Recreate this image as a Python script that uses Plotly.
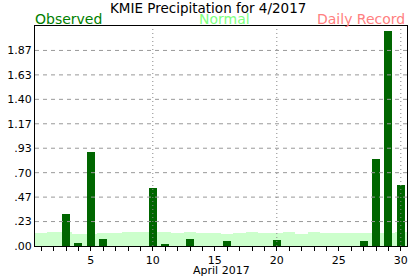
import plotly.graph_objects as go

days = list(range(1, 31))
observed = [0, 0, 0.31, 0.03, 0.90, 0.07, 0, 0, 0, 0.55,
            0.02, 0, 0.07, 0, 0, 0.05, 0, 0, 0, 0.06,
            0, 0, 0, 0, 0, 0, 0.05, 0.83, 2.05, 0.58]
normal = [0.12, 0.13, 0.13, 0.11, 0.11, 0.12, 0.12, 0.13, 0.13, 0.13,
          0.13, 0.12, 0.13, 0.12, 0.12, 0.11, 0.12, 0.13, 0.12, 0.12,
          0.13, 0.11, 0.13, 0.12, 0.12, 0.12, 0.12, 0.12, 0.12, 0.13]
ytick_vals = [0, 0.2333, 0.4667, 0.70, 0.9333, 1.1667, 1.40, 1.6333, 1.8667]
ytick_text = [".00", ".23", ".47", ".70", ".93", "1.17", "1.40", "1.63", "1.87"]
xtick_text = [str(d) if d % 5 == 0 else "" for d in days]
vgrid_days = [10, 20, 30]

FONT = "DejaVu Sans"

fig = go.Figure()
fig.add_trace(go.Bar(x=days, y=normal, width=1.0, marker=dict(color="#ccffcc", line=dict(width=0)),
                     hoverinfo="skip", name="Normal"))
fig.add_trace(go.Bar(x=days, y=observed, width=0.66, marker=dict(color="#006600", line=dict(width=0)),
                     name="Observed"))

shapes = []
for v in ytick_vals[1:]:
    shapes.append(dict(type="line", xref="paper", yref="y", x0=0, x1=1, y0=v, y1=v,
                       line=dict(color="#999999", width=1, dash="4px,4px"), layer="above"))
for d in vgrid_days:
    shapes.append(dict(type="line", xref="x", yref="paper", x0=d, x1=d, y0=0, y1=1,
                       line=dict(color="#888888", width=1, dash="1px,3px"), layer="above"))

fig.update_layout(
    width=417, height=276,
    margin=dict(l=35, r=10, t=26, b=30, autoexpand=False),
    paper_bgcolor="white", plot_bgcolor="white",
    barmode="overlay", bargap=0, showlegend=False,
    font=dict(family=FONT, color="black"),
    shapes=shapes,
    annotations=[
        dict(text="KMIE Precipitation for 4/2017", xref="paper", yref="paper", x=0.464, y=1,
             xanchor="center", yanchor="bottom", yshift=9, showarrow=False, borderpad=0,
             font=dict(size=13.5, color="black", family=FONT)),
        dict(text="Observed", xref="paper", yref="paper", x=0, y=1, xanchor="left", yanchor="bottom",
             xshift=-2, yshift=-3, showarrow=False, font=dict(size=14, color="#008000", family=FONT)),
        dict(text="Normal", xref="paper", yref="paper", x=0.51, y=1, xanchor="center", yanchor="bottom",
             yshift=-3, showarrow=False, font=dict(size=14, color="#80ff80", family=FONT)),
        dict(text="Daily Record", xref="paper", yref="paper", x=1, y=1, xanchor="right", yanchor="bottom",
             yshift=-3, showarrow=False, font=dict(size=14, color="#ff8080", family=FONT)),
        dict(text="April 2017", xref="paper", yref="paper", x=0.5, y=0, xanchor="center", yanchor="top",
             yshift=-17, showarrow=False, borderpad=0, font=dict(size=11, color="black", family=FONT)),
    ],
)
fig.update_xaxes(range=[0.5, 30.5], tickvals=days, ticktext=xtick_text, ticks="outside", ticklen=4,
                 tickcolor="black", showline=True, linecolor="black", linewidth=1, mirror=True,
                 showgrid=False, zeroline=False, tickfont=dict(size=11, family=FONT), automargin=False)
fig.update_yaxes(range=[0, 2.1], tickvals=ytick_vals, ticktext=ytick_text, ticks="",
                 showline=True, linecolor="black", linewidth=1, mirror=True, automargin=False,
                 showgrid=False, zeroline=False, tickfont=dict(size=11, family=FONT))

fig.write_html("out.html")
